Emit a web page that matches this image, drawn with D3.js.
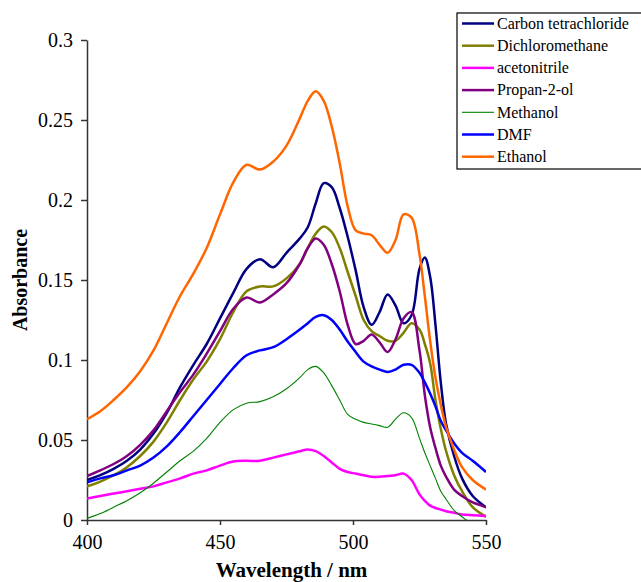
<!DOCTYPE html>
<html>
<head>
<meta charset="utf-8">
<script src="https://cdn.jsdelivr.net/npm/d3@7"></script>
<style>
  body { margin: 0; background: #fff; }
  svg { display: block; font-family: "Liberation Serif", "Times New Roman", serif; }
  svg text { font-family: "Liberation Serif", "Times New Roman", serif; }
  .axis path, .axis line { stroke: #333; stroke-width: 1.5; }
  .axis text { font-size: 20px; fill: #000; }
</style>
</head>
<body>
<svg width="641" height="582"></svg>
<script>
// Wavelength grid (nm)
const wavelength = [400, 405, 410, 415, 420, 425, 430, 435, 440, 445, 450, 455, 460, 465, 470, 475, 480, 483, 486, 489, 492, 495, 498, 501, 504, 507, 510, 513, 516, 519, 522, 525, 527, 529, 531, 533, 535, 538, 541, 545, 550];

// Absorbance, one array per solvent
const carbonTetrachloride = [0.025, 0.028, 0.032, 0.037, 0.044, 0.054, 0.067, 0.083, 0.097, 0.110, 0.126, 0.142, 0.157, 0.163, 0.158, 0.167, 0.176, 0.183, 0.198, 0.2105, 0.208, 0.195, 0.177, 0.156, 0.133, 0.122, 0.130, 0.141, 0.134, 0.123, 0.128, 0.157, 0.164, 0.152, 0.122, 0.086, 0.060, 0.040, 0.026, 0.015, 0.008];
const dichloromethane = [0.021, 0.024, 0.028, 0.033, 0.040, 0.049, 0.061, 0.075, 0.088, 0.099, 0.113, 0.130, 0.143, 0.146, 0.146, 0.151, 0.160, 0.170, 0.179, 0.1835, 0.180, 0.170, 0.155, 0.140, 0.125, 0.118, 0.115, 0.112, 0.112, 0.117, 0.123, 0.119, 0.110, 0.098, 0.075, 0.057, 0.043, 0.028, 0.018, 0.008, 0.002];
const acetonitrile = [0.0135, 0.015, 0.0165, 0.018, 0.0195, 0.021, 0.0235, 0.026, 0.029, 0.031, 0.034, 0.0365, 0.037, 0.037, 0.039, 0.041, 0.043, 0.044, 0.043, 0.040, 0.036, 0.032, 0.030, 0.029, 0.028, 0.027, 0.027, 0.0275, 0.028, 0.029, 0.025, 0.016, 0.012, 0.009, 0.0075, 0.0065, 0.0055, 0.0045, 0.0035, 0.003, 0.0025];
const propan2ol = [0.0275, 0.031, 0.035, 0.040, 0.047, 0.056, 0.068, 0.080, 0.091, 0.104, 0.118, 0.132, 0.139, 0.136, 0.141, 0.148, 0.160, 0.170, 0.176, 0.172, 0.160, 0.143, 0.122, 0.110, 0.112, 0.116, 0.111, 0.105, 0.113, 0.126, 0.130, 0.106, 0.078, 0.058, 0.045, 0.034, 0.027, 0.019, 0.015, 0.011, 0.008];
const methanol = [0.001, 0.004, 0.008, 0.012, 0.017, 0.023, 0.030, 0.037, 0.043, 0.051, 0.061, 0.069, 0.073, 0.074, 0.077, 0.082, 0.089, 0.094, 0.096, 0.092, 0.084, 0.075, 0.066, 0.063, 0.061, 0.060, 0.059, 0.058, 0.063, 0.067, 0.064, 0.051, 0.042, 0.034, 0.026, 0.018, 0.013, 0.006, 0.002, -0.003, -0.008];
const dmf = [0.0235, 0.026, 0.028, 0.031, 0.034, 0.039, 0.046, 0.055, 0.065, 0.075, 0.085, 0.095, 0.103, 0.106, 0.108, 0.113, 0.119, 0.123, 0.127, 0.128, 0.125, 0.119, 0.1115, 0.105, 0.099, 0.096, 0.094, 0.0925, 0.094, 0.097, 0.097, 0.092, 0.086, 0.079, 0.071, 0.062, 0.056, 0.048, 0.042, 0.037, 0.030];
const ethanol = [0.063, 0.068, 0.075, 0.083, 0.093, 0.106, 0.123, 0.140, 0.154, 0.170, 0.191, 0.211, 0.222, 0.219, 0.224, 0.234, 0.251, 0.262, 0.268, 0.262, 0.246, 0.223, 0.196, 0.181, 0.179, 0.178, 0.172, 0.167, 0.175, 0.191, 0.189, 0.166, 0.140, 0.112, 0.089, 0.072, 0.058, 0.044, 0.033, 0.025, 0.019];

const seriesNames = ["Carbon tetrachloride", "Dichloromethane", "acetonitrile", "Propan-2-ol", "Methanol", "DMF", "Ethanol"];
const seriesValues = [carbonTetrachloride, dichloromethane, acetonitrile, propan2ol, methanol, dmf, ethanol];
const seriesColors = ["#000080", "#808000", "#ff00ff", "#800080", "#008000", "#0000ff", "#ff6600"];
const seriesWidths = [2.5, 2.5, 2.5, 2.5, 1.1, 2.5, 2.5];

const xTicks = [400, 450, 500, 550];
const yTicks = [0, 0.05, 0.1, 0.15, 0.2, 0.25, 0.3];
const yTickLabels = ["0", "0.05", "0.1", "0.15", "0.2", "0.25", "0.3"];

let svg = d3.select("svg"),
  margin = { top: 40, right: 155, bottom: 62, left: 87 },
  width = +svg.attr("width") - margin.left - margin.right,
  height = +svg.attr("height") - margin.top - margin.bottom;

let x = d3.scaleLinear().domain([400, 550]).range([0, width]);
let y = d3.scaleLinear().domain([0, 0.3]).range([height, 0]);

let g = svg.append("g").attr("transform", "translate(" + margin.left + "," + margin.top + ")");

g.append("clipPath")
  .attr("id", "plotclip")
  .append("rect")
  .attr("x", 0)
  .attr("y", -2)
  .attr("width", width)
  .attr("height", height + 2);

// axes
g.append("g")
  .attr("class", "axis")
  .attr("transform", "translate(0," + height + ")")
  .call(d3.axisBottom(x).tickValues(xTicks).tickSize(5).tickSizeOuter(0).tickPadding(10).tickFormat(d3.format("d")));

g.append("g")
  .attr("class", "axis")
  .call(
    d3.axisLeft(y)
      .tickValues(yTicks)
      .tickSize(6)
      .tickSizeOuter(0)
      .tickPadding(8)
      .tickFormat(function (d, i) {
        return yTickLabels[i];
      })
  );

// lines
let line = d3
  .line()
  .x(function (d) { return x(d[0]); })
  .y(function (d) { return y(d[1]); })
  .curve(d3.curveCatmullRom.alpha(0.5));

let lines = g.append("g").attr("clip-path", "url(#plotclip)");

seriesValues.forEach(function (vals, i) {
  lines
    .append("path")
    .datum(wavelength.map(function (w, j) { return [w, vals[j]]; }))
    .attr("fill", "none")
    .attr("stroke", seriesColors[i])
    .attr("stroke-width", seriesWidths[i])
    .attr("stroke-linejoin", "round")
    .attr("d", line);
});

// axis titles
svg.append("text")
  .attr("x", margin.left + width / 2 + 5)
  .attr("y", 577)
  .attr("text-anchor", "middle")
  .style("font-size", "21px")
  .style("font-weight", "bold")
  .text("Wavelength / nm");

svg.append("text")
  .attr("transform", "translate(27," + (margin.top + height / 2) + ") rotate(-90)")
  .attr("text-anchor", "middle")
  .style("font-size", "20px")
  .style("font-weight", "bold")
  .text("Absorbance");

// legend
let legend = svg.append("g").attr("transform", "translate(457,13)");

legend.append("rect")
  .attr("x", 0)
  .attr("y", 0)
  .attr("width", 200)
  .attr("height", 156)
  .attr("fill", "#fff")
  .attr("stroke", "#000")
  .attr("stroke-width", 1.2);

let rows = legend
  .selectAll("g.row")
  .data(seriesNames)
  .enter()
  .append("g")
  .attr("class", "row")
  .attr("transform", function (d, i) { return "translate(0," + (10.5 + i * 22.2) + ")"; });

rows.append("line")
  .attr("x1", 5)
  .attr("x2", 37)
  .attr("stroke", function (d, i) { return seriesColors[i]; })
  .attr("stroke-width", function (d, i) { return seriesWidths[i]; });

rows.append("text")
  .attr("x", 40)
  .attr("dy", "0.33em")
  .style("font-size", "16px")
  .style("font-family", "'Liberation Serif', 'Times New Roman', serif")
  .text(function (d) { return d; });
</script>
</body>
</html>
